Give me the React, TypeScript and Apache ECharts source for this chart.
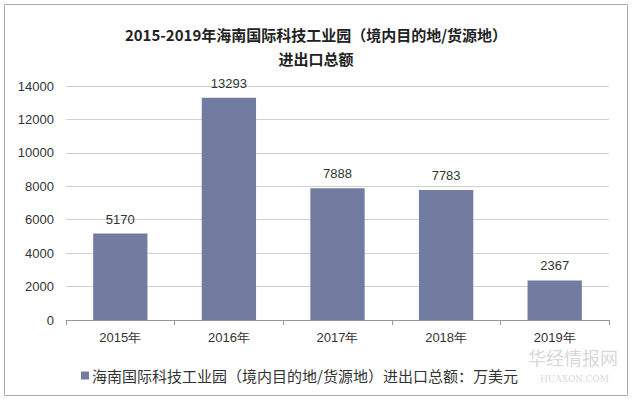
import React, { useEffect, useRef } from "react";
import * as echarts from "echarts";

const categories = ["2015年", "2016年", "2017年", "2018年", "2019年"];
const values = [5170, 13293, 7888, 7783, 2367];
const seriesName = "海南国际科技工业园（境内目的地/货源地）进出口总额：万美元";
const titleText = "2015-2019年海南国际科技工业园（境内目的地/货源地）\n进出口总额";

export default function App() {
  const ref = useRef<HTMLDivElement>(null);
  useEffect(() => {
    const chart = echarts.init(ref.current!, null, { renderer: "svg" });
    chart.setOption({
      animation: false,
      backgroundColor: "#ffffff",
      title: {
        text: titleText,
        left: "center",
        top: 17,
        textStyle: {
          fontFamily: "Noto Sans CJK SC",
          fontWeight: "bold",
          fontSize: 15,
          color: "#222",
          lineHeight: 24,
        },
      },
      grid: { left: 66, right: 23, top: 86, bottom: 80 },
      legend: {
        left: 76,
        top: 363,
        itemWidth: 8,
        itemHeight: 8,
        itemGap: 4,
        icon: "rect",
        textStyle: { fontFamily: "Noto Sans CJK SC", fontSize: 15, color: "#333", padding: [0, 0, 0, -2] },
        data: [seriesName],
      },
      xAxis: {
        type: "category",
        data: categories,
        axisLine: { lineStyle: { color: "#999" } },
        axisTick: { show: true, length: 5, lineStyle: { color: "#999" } },
        axisLabel: { fontSize: 13, color: "#333", margin: 11, fontFamily: "Liberation Sans" },
      },
      yAxis: {
        type: "value",
        min: 0,
        max: 14000,
        interval: 2000,
        axisLine: { show: false },
        axisTick: { show: false },
        axisLabel: {
          fontSize: 13,
          color: "#333",
          margin: 12,
          fontFamily: "Liberation Sans",
          formatter: (v: number) => String(v),
        },
        splitLine: { lineStyle: { color: "#d0d0d0" } },
      },
      series: [
        {
          name: seriesName,
          type: "bar",
          data: values,
          barWidth: "50%",
          itemStyle: { color: "#727ca1" },
          label: {
            show: true,
            position: "top",
            distance: 8,
            fontSize: 13,
            color: "#333",
            fontFamily: "Liberation Sans",
          },
        },
      ],
      graphic: [
        {
          type: "rect",
          shape: { x: 4.5, y: 4.5, width: 623, height: 391 },
          style: { fill: "none", stroke: "#aaa", lineWidth: 1 },
          silent: true,
        },
        {
          type: "text",
          left: 528,
          top: 348,
          style: {
            text: "华经情报网",
            fontSize: 18,
            fontFamily: "Noto Sans CJK SC",
            fill: "rgba(150,150,150,0.4)",
          },
          silent: true,
        },
        {
          type: "text",
          left: 540,
          top: 374,
          style: {
            text: "HUAXON.COM",
            fontSize: 9,
            fontFamily: "DejaVu Serif",
            fill: "rgba(150,150,150,0.4)",
          },
          silent: true,
        },
      ],
    });
    return () => chart.dispose();
  }, []);
  return (
    <div
      ref={ref}
      style={{ position: "fixed", left: 0, top: 0, width: 632, height: 400 }}
    />
  );
}
